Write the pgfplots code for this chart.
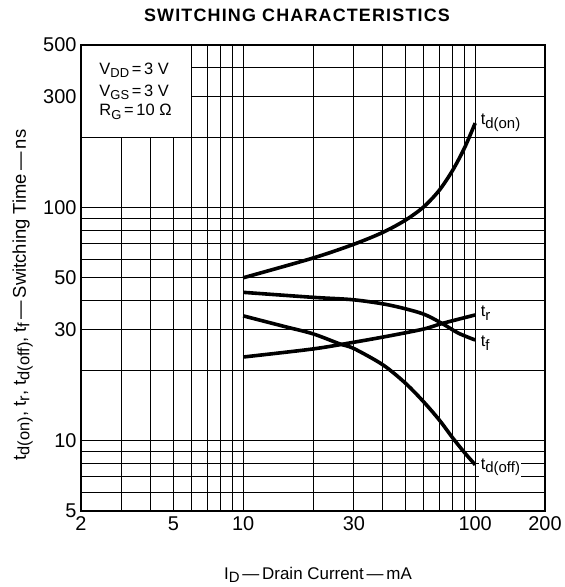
\documentclass[border=0pt]{standalone}
\usepackage{fontspec}
\setmainfont{Liberation Sans}
\usepackage{pgfplots}
\pgfplotsset{compat=1.18}
\newcommand{\sub}[2][15]{\raisebox{-3.5bp}{\fontsize{#1}{#1}\selectfont #2}}
\begin{document}
\begin{tikzpicture}
\begin{axis}[
  scale only axis, width=464bp, height=466bp,
  xmode=log, ymode=log,
  xmin=2, xmax=200, ymin=5, ymax=500,
  log ticks with fixed point,
  /pgf/number format/assume math mode=true,
  xtick={2,5,10,30,100,200},
  ytick={5,10,30,50,100,300,500},
  minor xtick={3,4,6,7,8,9,20,40,50,60,70,80,90},
  minor ytick={6,7,8,9,20,40,60,70,80,90,200,400},
  grid=both,
  major grid style={black, line width=1bp},
  minor grid style={black, line width=1bp},
  major tick length=0pt, minor tick length=0pt,
  axis line style={black, line width=1.8bp},
  tick label style={font=\fontsize{20}{20}\selectfont},
  xticklabel style={yshift=-2bp},
  yticklabel style={xshift=-1bp},
]
\fill[white] (axis cs:2,200) rectangle (axis cs:6,500);
\draw[black, line width=1bp] (axis cs:2,200) -- (axis cs:6,200) -- (axis cs:6,500);
\draw[black, line width=1.8bp] (axis cs:2,200) -- (axis cs:2,500) -- (axis cs:6,500);
% t_d(on)
\addplot[black, line width=3.6bp, smooth] coordinates {
 (10,50.1) (20,60.9) (30,69.8) (40,78.5) (50,88.5) (60,101) (70,118.9) (80,145) (90,181) (100,231)};
% t_f
\addplot[black, line width=3.6bp, smooth] coordinates {
 (10,43.4) (20,41.3) (30,40.3) (42.5,38.3) (59,35.2) (72,31.9) (84.6,29.0) (100,27.1)};
% t_r
\addplot[black, line width=3.6bp, smooth] coordinates {
 (10,22.9) (20,24.8) (30,26.5) (42.5,28.2) (60,30.2) (72,31.9) (100,34.7)};
% t_d(off)
\addplot[black, line width=3.6bp, smooth] coordinates {
 (10,34.4) (15,31.0) (20,28.8) (26,26.1) (30,24.9) (40,21.2) (50,17.7) (60,14.7) (70,12.3) (80,10.3) (90,8.9) (100,7.9)};
\node[anchor=base west, font=\fontsize{16.5}{16.5}\selectfont] at (axis cs:2.32,374) {V\sub[13]{DD}\,=\,3 V};
\node[anchor=base west, font=\fontsize{16.5}{16.5}\selectfont] at (axis cs:2.32,302) {V\sub[13]{GS}\,=\,3 V};
\node[anchor=base west, font=\fontsize{16.5}{16.5}\selectfont] at (axis cs:2.32,248) {R\sub[13]{G}\,=\,10 Ω};
\node[anchor=base west, fill=white, inner sep=1.5bp, font=\fontsize{16.5}{16.5}\selectfont] at (axis cs:104,227) {t\sub{d(on)}};
\node[anchor=base west, fill=white, inner sep=1.5bp, font=\fontsize{16.5}{16.5}\selectfont] at (axis cs:104,34.1) {t\sub{r}};
\node[anchor=base west, fill=white, inner sep=1.5bp, font=\fontsize{16.5}{16.5}\selectfont] at (axis cs:104,25.4) {t\sub{f}};
\node[anchor=base west, fill=white, inner sep=1.5bp, font=\fontsize{16.5}{16.5}\selectfont] at (axis cs:104,7.55) {t\sub{d(off)}};
\end{axis}
\node[anchor=base, font={\fontsize{18}{18}\selectfont\bfseries\addfontfeatures{LetterSpace=6.5}}] at (216bp,489bp) {SWITCHING CHARACTERISTICS};
\node[anchor=base, font=\fontsize{17}{17}\selectfont] at (237bp,-68bp) {I\sub{D}\,—\,Drain Current\,—\,mA};
\node[anchor=base, rotate=90, font=\fontsize{18.5}{18.5}\selectfont] at (-55bp,216bp) {t\sub[16.5]{d(on)}, t\sub[16.5]{r}, t\sub[16.5]{d(off)}, t\sub[16.5]{f}\,—\,Switching Time\,—\,ns};
\path (-81bp,-76bp) rectangle (482bp,511bp);
\end{tikzpicture}
\end{document}
